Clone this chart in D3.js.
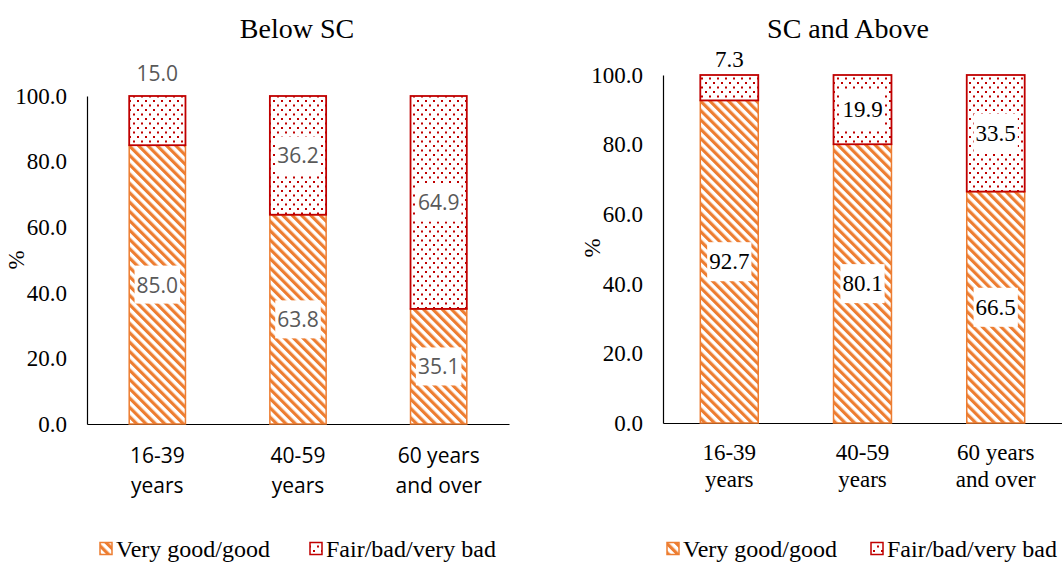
<!DOCTYPE html>
<html>
<head>
<meta charset="utf-8">
<script src="https://cdn.jsdelivr.net/npm/d3@7"></script>
<style>
html,body{margin:0;padding:0;background:#fff;}
svg{display:block;}
</style>
</head>
<body>
<svg id="chart" width="1062" height="564"></svg>
<script>
// ---- data ----
const categories = ["16-39 years", "40-59 years", "60 years and over"];
const tickLines = [["16-39", "years"], ["40-59", "years"], ["60 years", "and over"]];
const seriesNames = ["Very good/good", "Fair/bad/very bad"];
const belowGood = [85.0, 63.8, 35.1];
const belowFair = [15.0, 36.2, 64.9];
const aboveGood = [92.7, 80.1, 66.5];
const aboveFair = [7.3, 19.9, 33.5];
const yTicks = [0, 20, 40, 60, 80, 100];

const ORANGE = "#ED7D31", RED = "#C00000";
const SERIF = "Liberation Serif, Times New Roman, serif";
const SANS = "Open Sans, Noto Sans, sans-serif";

const svg = d3.select("#chart");
const defs = svg.append("defs");

// stripe pattern
const ps = defs.append("pattern").attr("id", "stripes").attr("patternUnits", "userSpaceOnUse")
  .attr("width", 6.6).attr("height", 6.6).attr("patternTransform", "rotate(-45)");
ps.append("rect").attr("width", 6.6).attr("height", 6.6).attr("fill", "#fff");
ps.append("rect").attr("width", 3.2).attr("height", 6.6).attr("fill", ORANGE);
// dot pattern
const pd = defs.append("pattern").attr("id", "dots").attr("patternUnits", "userSpaceOnUse")
  .attr("width", 8).attr("height", 9);
pd.append("rect").attr("width", 8).attr("height", 9).attr("fill", "#fff");
pd.append("rect").attr("x", 1).attr("y", 1).attr("width", 2).attr("height", 2).attr("fill", RED);
pd.append("rect").attr("x", 5).attr("y", 5.5).attr("width", 2).attr("height", 2).attr("fill", RED);

function panel(cfg) {
  const x = d3.scaleBand().domain(categories).range(cfg.xr)
    .paddingInner(cfg.pi).paddingOuter(cfg.po);
  const y = d3.scaleLinear().domain([0, 100]).range(cfg.yr);
  const g = svg.append("g");

  // title
  g.append("text").attr("x", cfg.titleX).attr("y", cfg.titleY).attr("text-anchor", "middle")
    .attr("font-family", SERIF).attr("font-size", 28).attr("fill", "#000").text(cfg.title);

  // y axis
  const ya = d3.axisLeft(y).tickValues(yTicks).tickFormat(d3.format(".1f")).tickSize(0).tickPadding(20);
  const yg = g.append("g").attr("transform", `translate(${cfg.xr[0]},0)`).call(ya);
  yg.attr("font-family", SERIF).attr("font-size", 23);
  yg.select(".domain").attr("stroke", "#000").attr("stroke-width", 1.2);
  yg.selectAll("text").attr("font-family", SERIF).attr("font-size", 23).attr("fill", "#000");

  // x axis
  const xa = d3.axisBottom(x).tickSize(0).tickFormat("");
  const xg = g.append("g").attr("transform", `translate(0,${cfg.yr[0]})`).call(xa);
  xg.attr("font-family", cfg.tickFont);
  xg.select(".domain").attr("stroke", "#000").attr("stroke-width", 1.2);
  xg.selectAll(".tick").each(function(d, i) {
    const t = d3.select(this).append("text").attr("text-anchor", "middle")
      .attr("font-family", cfg.tickFont).attr("font-size", cfg.tickSize).attr("fill", "#000");
    tickLines[i].forEach((ln, j) => {
      t.append("tspan").attr("x", 0).attr("y", cfg.tickY0 + j * cfg.tickDy).text(ln);
    });
  });

  // y label
  g.append("text").attr("transform", `translate(${cfg.ylabX},${cfg.ylabY}) rotate(-90)`)
    .attr("text-anchor", "middle").attr("font-family", SERIF).attr("font-size", 23).attr("fill", "#000").text("%");

  // bars
  const stack = categories.map((c, i) => ({ c, good: cfg.good[i], fair: cfg.fair[i] }));
  const bars = g.append("g");
  bars.selectAll(".good").data(stack).join("rect")
    .attr("x", d => x(d.c)).attr("width", x.bandwidth())
    .attr("y", d => y(d.good)).attr("height", d => y(0) - y(d.good))
    .attr("fill", "url(#stripes)").attr("stroke", ORANGE).attr("stroke-width", 1.5);
  bars.selectAll(".fair").data(stack).join("rect")
    .attr("x", d => x(d.c)).attr("width", x.bandwidth())
    .attr("y", d => y(d.good + d.fair)).attr("height", d => y(d.good) - y(d.good + d.fair))
    .attr("fill", "url(#dots)").attr("stroke", RED).attr("stroke-width", 1.8);

  // labels
  const labs = [];
  stack.forEach(d => {
    labs.push({ v: d.good, cx: x(d.c) + x.bandwidth() / 2, cy: y(d.good / 2), bg: true });
    if (d.fair < 16) {
      labs.push({ v: d.fair, cx: x(d.c) + x.bandwidth() / 2, cy: y(100) - cfg.aboveGap, bg: false });
    } else {
      labs.push({ v: d.fair, cx: x(d.c) + x.bandwidth() / 2, cy: y(d.good + d.fair / 2), bg: true });
    }
  });
  const lg = g.append("g");
  labs.forEach(l => {
    const t = lg.append("text").attr("x", l.cx).attr("y", l.cy).attr("text-anchor", "middle")
      .attr("dominant-baseline", "central").attr("font-family", cfg.labFont).attr("font-size", cfg.labSize)
      .attr("fill", cfg.labColor).text(d3.format(".1f")(l.v));
    if (l.bg) {
      const bb = t.node().getBBox();
      lg.insert("rect", () => t.node()).attr("x", bb.x - 2).attr("y", bb.y - cfg.padY)
        .attr("width", bb.width + 4).attr("height", bb.height + 2 * cfg.padY).attr("fill", "#fff");
    }
  });

  // legend
  const lgd = g.append("g");
  cfg.legend.forEach((L, i) => {
    lgd.append("rect").attr("x", L.x).attr("y", cfg.legY - 6.5).attr("width", 12).attr("height", 12)
      .attr("fill", i === 0 ? "url(#stripes)" : "url(#dots)")
      .attr("stroke", i === 0 ? ORANGE : RED).attr("stroke-width", 1.5);
    lgd.append("text").attr("x", L.x + 16).attr("y", cfg.legY).attr("dominant-baseline", "central")
      .attr("font-family", SERIF).attr("font-size", 24).attr("fill", "#000").text(seriesNames[i]);
  });
}

panel({
  title: "Below SC", titleX: 297, titleY: 38,
  xr: [87, 509], pi: 0.6, po: 0.3, yr: [424, 96],
  good: belowGood, fair: belowFair,
  tickFont: SANS, tickSize: 21, tickY0: 39, tickDy: 30,
  labFont: SANS, labSize: 21, labColor: "#595959", padY: 5, aboveGap: 23,
  ylabX: 24, ylabY: 260,
  legY: 549, legend: [{ x: 100 }, { x: 310 }]
});

panel({
  title: "SC and Above", titleX: 848, titleY: 38,
  xr: [663, 1062], pi: 0.565, po: 0.28, yr: [423, 75],
  good: aboveGood, fair: aboveFair,
  tickFont: SERIF, tickSize: 23, tickY0: 37, tickDy: 27,
  labFont: SERIF, labSize: 23, labColor: "#000", padY: 7, aboveGap: 16,
  ylabX: 600, ylabY: 248,
  legY: 549, legend: [{ x: 667 }, { x: 871 }]
});
</script>
</body>
</html>
